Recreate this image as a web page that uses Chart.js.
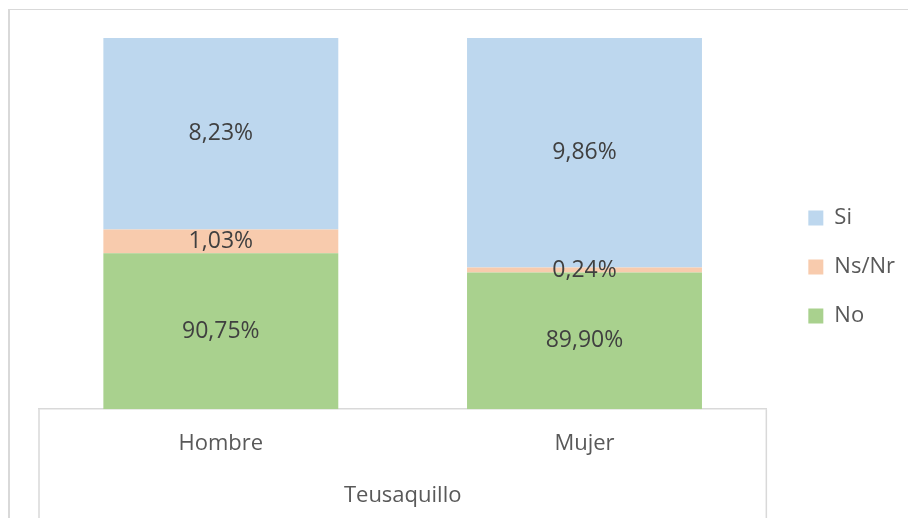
<!DOCTYPE html>
<html>
<head>
<meta charset="utf-8">
<script src="https://cdn.jsdelivr.net/npm/chart.js@4.4.1/dist/chart.umd.min.js"></script>
<style>
    html, body { margin: 0; padding: 0; background: #fff; }
    #frame {
        position: absolute; left: 8px; top: 9px; width: 1000px; height: 600px;
        border-left: 2px solid #d9d9d9; border-top: 1px solid #d9d9d9;
    }
    #chart { position: absolute; left: 0; top: 0; }
</style>
</head>
<body>
<div id="frame"></div>
<canvas id="chart" width="908" height="518"></canvas>
<script>
const categories = ['Hombre', 'Mujer'];
const groupLabel = 'Teusaquillo';

// bar heights as drawn (share of the column)
const noHeights = [42.0, 36.8];
const nsnrHeights = [6.4, 1.35];
const siHeights = [51.6, 61.85];

// percentages printed on the bars
const noLabels = [90.75, 89.90];
const nsnrLabels = [1.03, 0.24];
const siLabels = [8.23, 9.86];

const fontFamily = "'Open Sans', sans-serif";

const formatPct = v => v.toFixed(2).replace('.', ',') + '%';

const barLabels = {
    id: 'barLabels',
    afterDatasetsDraw(chart) {
        const ctx = chart.ctx;
        ctx.save();
        ctx.font = '23px ' + fontFamily;
        ctx.fillStyle = '#404040';
        ctx.textAlign = 'center';
        ctx.textBaseline = 'middle';
        chart.data.datasets.forEach((ds, i) => {
            chart.getDatasetMeta(i).data.forEach((bar, j) => {
                const p = bar.getCenterPoint();
                ctx.fillText(formatPct(ds.shownLabels[j]), p.x, p.y);
            });
        });
        ctx.restore();
    }
};

// bracket of the category axis (left and right edges)
const axisBracket = {
    id: 'axisBracket',
    afterDraw(chart) {
        const ctx = chart.ctx;
        const x = chart.scales.x;
        ctx.save();
        ctx.strokeStyle = '#d9d9d9';
        ctx.lineWidth = 1.5;
        ctx.beginPath();
        ctx.moveTo(x.left, x.top);
        ctx.lineTo(x.left, chart.height);
        ctx.moveTo(x.right, x.top);
        ctx.lineTo(x.right, chart.height);
        ctx.stroke();
        ctx.restore();
    }
};

new Chart(document.getElementById('chart'), {
    type: 'bar',
    data: {
        labels: categories,
        datasets: [
            {label: 'No', data: noHeights, shownLabels: noLabels, backgroundColor: '#a9d18e'},
            {label: 'Ns/Nr', data: nsnrHeights, shownLabels: nsnrLabels, backgroundColor: '#f8cbad'},
            {label: 'Si', data: siHeights, shownLabels: siLabels, backgroundColor: '#bdd7ee'}
        ]
    },
    options: {
        responsive: false,
        animation: false,
        devicePixelRatio: 1,
        categoryPercentage: 1,
        barPercentage: 0.646,
        layout: {
            padding: {left: 39, top: 38, right: 3, bottom: 22}
        },
        plugins: {
            tooltip: {enabled: false},
            legend: {
                position: 'right',
                reverse: true,
                labels: {
                    boxWidth: 15,
                    boxHeight: 15,
                    padding: 27,
                    color: '#595959',
                    font: {family: fontFamily, size: 22}
                }
            }
        },
        scales: {
            x: {
                stacked: true,
                grid: {display: false, drawTicks: false},
                border: {display: true, color: '#d9d9d9', width: 1.5},
                ticks: {
                    color: '#595959',
                    padding: 21,
                    font: {family: fontFamily, size: 22}
                },
                title: {
                    display: true,
                    text: groupLabel,
                    color: '#595959',
                    padding: {top: 5, bottom: -13},
                    font: {family: fontFamily, size: 22}
                }
            },
            y: {
                stacked: true,
                position: 'right',
                min: 0,
                max: 100,
                grid: {display: false},
                border: {display: false},
                ticks: {display: false},
                afterFit(scale) {
                    scale.width = 15;
                }
            }
        }
    },
    plugins: [barLabels, axisBracket]
});
</script>
</body>
</html>
